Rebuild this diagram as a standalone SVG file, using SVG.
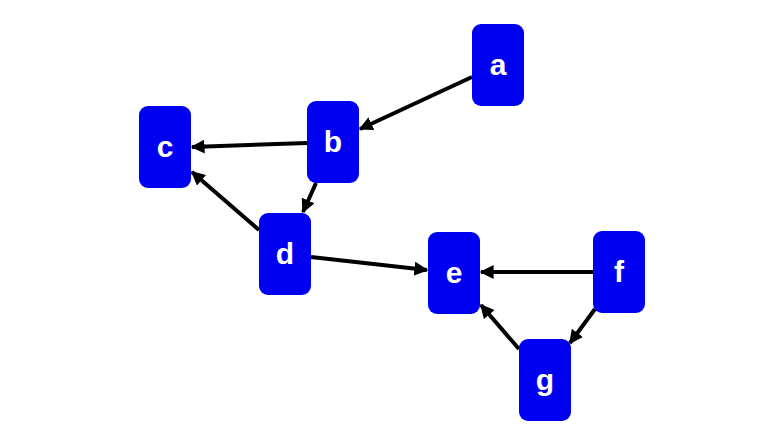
<svg xmlns="http://www.w3.org/2000/svg" width="784" height="445" viewBox="0 0 784 445">
<style>
.n rect{fill:#0000f0;}
.n text{fill:#fff;font-family:"Liberation Sans",Arial,sans-serif;font-weight:bold;font-size:30px;text-anchor:middle;dominant-baseline:central;}
.e line{stroke:#000;stroke-width:4;marker-end:url(#ah);}
</style>
<defs><marker id="ah" viewBox="0 0 10 10" refX="9" refY="5" markerWidth="3.5" markerHeight="3.5" orient="auto" markerUnits="strokeWidth"><path d="M0,0L10,5L0,10z" fill="#000"/></marker></defs>
<rect width="784" height="445" fill="#fff"/>
<g class="e">
<line x1="472" y1="77" x2="360" y2="129"/>
<line x1="307" y1="143" x2="192" y2="147"/>
<line x1="316" y1="183" x2="303" y2="212"/>
<line x1="259" y1="230" x2="192" y2="172"/>
<line x1="311" y1="257" x2="427" y2="270"/>
<line x1="593" y1="272" x2="481" y2="272"/>
<line x1="595" y1="309" x2="570" y2="343"/>
<line x1="519" y1="349" x2="481" y2="305"/>
</g>
<g id="a" class="n"><rect x="472" y="24" width="52" height="82" rx="9"/><text x="498" y="64">a</text></g>
<g id="b" class="n"><rect x="307" y="101" width="52" height="82" rx="9"/><text x="333" y="141">b</text></g>
<g id="c" class="n"><rect x="139" y="106" width="52" height="82" rx="9"/><text x="165" y="146">c</text></g>
<g id="d" class="n"><rect x="259" y="213" width="52" height="82" rx="9"/><text x="285" y="253">d</text></g>
<g id="e1" class="n"><rect x="428" y="232" width="52" height="82" rx="9"/><text x="454" y="272">e</text></g>
<g id="f" class="n"><rect x="593" y="231" width="52" height="82" rx="9"/><text x="619" y="271">f</text></g>
<g id="g" class="n"><rect x="519" y="339" width="52" height="82" rx="9"/><text x="545" y="379">g</text></g>
</svg>
